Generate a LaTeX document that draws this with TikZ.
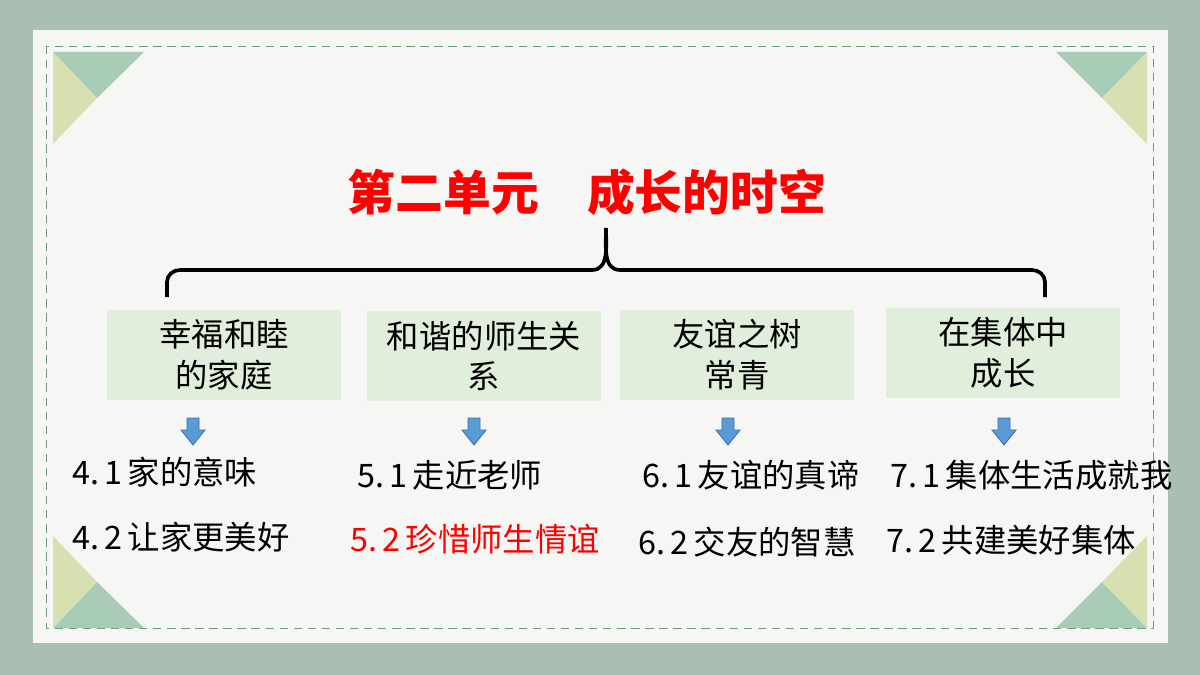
\documentclass[tikz,border=0pt]{standalone}
\usepackage{fontspec}
\newfontfamily\cjk{Noto Sans CJK SC}
\begin{document}
\begin{tikzpicture}[x=0.025cm,y=-0.025cm,
  box/.style={fill=boxg,draw=none,minimum width=234*0.025cm,minimum height=90*0.025cm,align=center,font=\cjk\fontsize{23}{29}\selectfont,inner sep=0},
  item/.style={anchor=west,font=\cjk\fontsize{23}{26}\selectfont,inner sep=0},
  barrow/.style={fill=arrb,draw=arrd,line width=0.6pt}]
\definecolor{bg}{HTML}{A9BFB2}
\definecolor{panel}{HTML}{F6F6F4}
\definecolor{boxg}{HTML}{E2EEDC}
\definecolor{teal}{HTML}{A8CBB6}
\definecolor{yel}{HTML}{D6E0B0}
\definecolor{dashg}{HTML}{6A9E74}
\definecolor{arrb}{HTML}{5B9BD5}
\definecolor{arrd}{HTML}{3A6FA8}
\useasboundingbox (0,0) rectangle (1200,675);
\fill[bg] (0,0) rectangle (1200,675);
\fill[panel] (33,30) rectangle (1168,643);
\draw[draw=dashg,line width=0.7pt,dash pattern=on 6pt off 4pt] (46,46) rectangle (1153,628);
% corner triangles
\fill[teal] (53,52)--(144,52)--(97,98)--cycle; \fill[yel] (53,52)--(97,98)--(53,144)--cycle;
\fill[teal] (1147,52)--(1056,52)--(1102,98)--cycle; \fill[yel] (1147,52)--(1102,98)--(1147,144)--cycle;
\fill[teal] (53,628)--(144,628)--(97,582)--cycle; \fill[yel] (53,628)--(97,582)--(53,536)--cycle;
\fill[teal] (1147,628)--(1056,628)--(1102,582)--cycle; \fill[yel] (1147,628)--(1102,582)--(1147,536)--cycle;
\node[font=\cjk\bfseries\fontsize{34}{36}\selectfont,text=red] (title) at (587,192) {第二单元\quad 成长的时空};
% brace
\coordinate (bl) at (167,297); \coordinate (br) at (1045,297); \coordinate (tip) at (606,228);
\draw[line width=2.6pt] (bl) -- (167,282) to[out=90,in=180] (180,270) -- (592,270) to[out=0,in=-90] (tip) to[out=-90,in=180] (620,270) -- (1032,270) to[out=0,in=90] (1045,282) -- (br);
\node[box] (b1) at (224,355) {幸福和睦\\的家庭};
\node[box] (b2) at (484,356) {和谐的师生关\\系};
\node[box] (b3) at (737,355) {友谊之树\\常青};
\node[box] (b4) at (1003,353) {在集体中\\成长};
\foreach \x in {193,474,728,1004}{
 \draw[barrow] (\x-6,418)--(\x+6,418)--(\x+6,430)--(\x+12,430)--(\x,445)--(\x-12,430)--(\x-6,430)--cycle;}
\node[item] (i41) at (72,472) {4.\,1\,家的意味};
\node[item] (i42) at (72,537) {4.\,2\,让家更美好};
\node[item] (i51) at (357,475) {5.\,1\,走近老师};
\node[item,text=red] (i52) at (350,539) {5.\,2\,珍惜师生情谊};
\node[item] (i61) at (642,475) {6.\,1\,友谊的真谛};
\node[item] (i62) at (638,542) {6.\,2\,交友的智慧};
\node[item] (i71) at (890,475) {7.\,1\,集体生活成就我};
\node[item] (i72) at (886,540) {7.\,2\,共建美好集体};
\end{tikzpicture}
\end{document}
